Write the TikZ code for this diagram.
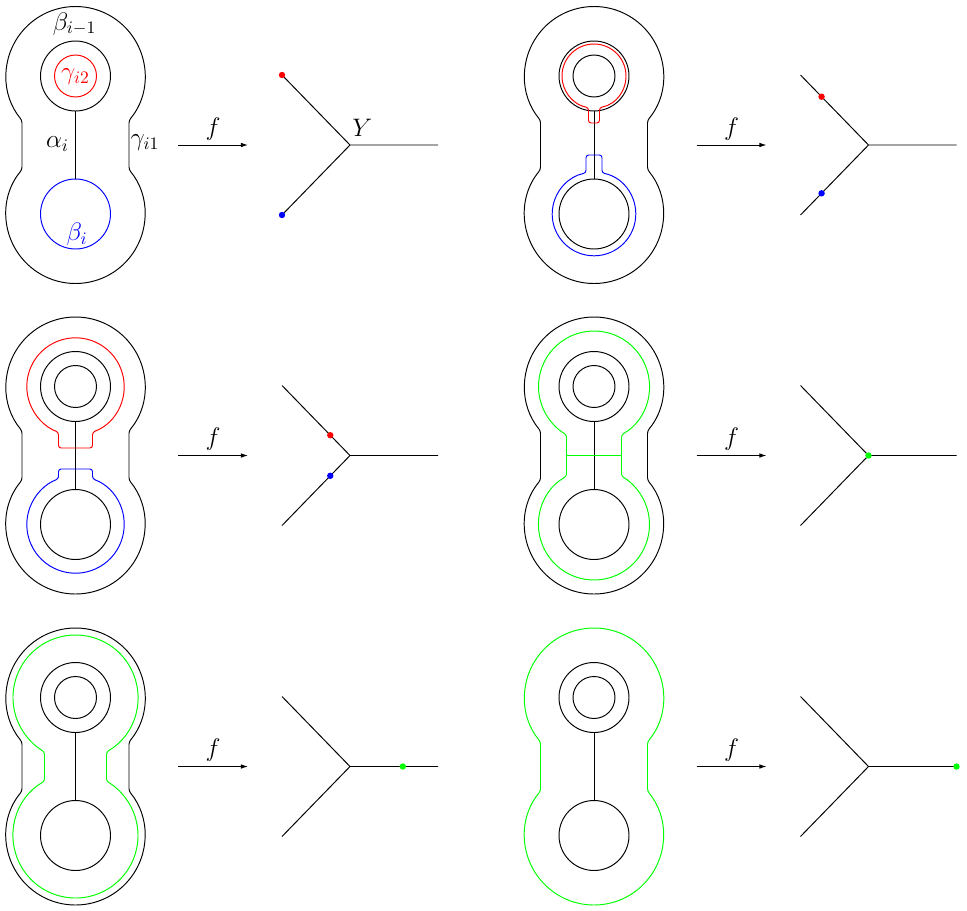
\documentclass[tikz,border=0pt]{standalone}
\usepackage{amsmath}
\usepackage{xcolor}
\usepackage{tikz}
\usetikzlibrary{arrows.meta,calc}
\definecolor{figline}{RGB}{0,0,0}
\definecolor{curvered}{RGB}{255,0,0}
\definecolor{curveblue}{RGB}{0,0,255}
\definecolor{curvegreen}{RGB}{0,255,0}
\tikzset{
  sc/.style  ={draw=figline, line width=0.55pt},
  cr/.style  ={draw=curvered, line width=0.55pt, rounded corners=1.5pt},
  cb/.style  ={draw=curveblue, line width=0.55pt, rounded corners=1.5pt},
  cg/.style  ={draw=curvegreen, line width=0.55pt, rounded corners=1.5pt},
  pk/.style  ={draw=figline, line width=0.55pt, rounded corners=1.5pt},
  lab/.style ={font=\fontsize{14.7}{17}\selectfont, inner sep=0pt},
  ptr/.style ={draw=figline, line width=0.55pt, -{Latex[length=4pt,width=2.6pt]}},
}
% outer boundary: two lobes joined by a neck
\newcommand{\peanut}[3]{%
  \pgfmathsetmacro{\lobeang}{acos(#3/#2)}
  \pgfmathsetmacro{\lobey}{69-#2*sin(\lobeang)}
  \draw[#1] (#3,\lobey) arc[start angle=-\lobeang, end angle=180+\lobeang, radius=#2]
    -- (-#3,-\lobey) arc[start angle=180-\lobeang, end angle=360+\lobeang, radius=#2] -- cycle;
}
% circle round the upper lobe with a tab pulled down
\newcommand{\tabloop}[5]{%
  \pgfmathsetmacro{\tabang}{acos(#4/#3)}
  \pgfmathsetmacro{\taby}{#2-#3*sin(\tabang)}
  \draw[#1] (#4,\taby) arc[start angle=-\tabang, end angle=180+\tabang, radius=#3]
    -- (-#4,#5) -- (#4,#5) -- cycle;
}
% map f onto the tripod Y
\newcommand{\ymap}{%
  \coordinate (fs) at (102.5,0);
  \coordinate (fe) at (172.5,0);
  \draw[ptr] (fs) -- node[lab,above=2.5pt] {$f$} (fe);
  \coordinate (yv) at (274.5,0);
  \coordinate (ya) at (206.5,70);
  \coordinate (yb) at (206.5,-70);
  \coordinate (yc) at (362.5,0);
  \draw[sc] (ya) -- (yv) -- (yb) (yv) -- (yc);
}
\newcommand{\handles}{%
  \draw[sc] (0,69) circle[radius=21];
  \draw[sc] (0,69) circle[radius=35];
  \draw[sc] (0,-69) circle[radius=35];
  \coordinate (ht) at (0,34);
  \coordinate (hb) at (0,-34);
  \draw[sc] (ht) -- (hb);
}

\begin{document}
\begin{tikzpicture}[x=0.02cm,y=0.02cm]
  \useasboundingbox (0,0) rectangle (967,-910);
  % row 1, left
  \begin{scope}[shift={(75.5,-145)}]
  \peanut{pk}{69.5}{53.5}
  \draw[sc] (0,69) circle[radius=35];
  \draw[cr] (0,69) circle[radius=21];
  \draw[cb] (0,-69) circle[radius=35];
  \coordinate (ht) at (0,34);
  \coordinate (hb) at (0,-34);
  \draw[sc] (ht) -- (hb);
  \node[lab] (bprev) at (-1,121) {$\beta_{i-1}$};
  \node[lab,text=curvered] (gtwo) at (0,68) {$\gamma_{i2}$};
  \node[lab] (alph) at (-18,1) {$\alpha_i$};
  \node[lab] (gone) at (69.5,2) {$\gamma_{i1}$};
  \node[lab,text=curveblue] (bcur) at (1.5,-89) {$\beta_i$};
  \ymap
  \node[lab,anchor=base west] (ylab) at ($(yv)+(2,9)$) {$Y$};
  \fill[curvered] (ya) circle[radius=3.2];
  \fill[curveblue] (yb) circle[radius=3.2];
  \end{scope}
  % row 1, right
  \begin{scope}[shift={(594,-145)}]
  \peanut{pk}{69.5}{53.5}
  \handles
  \tabloop{cr}{69}{32}{5.5}{22}
  \begin{scope}[yscale=-1]
  \tabloop{cb}{69}{41.8}{8}{10}
  \end{scope}
  \ymap
  \fill[curvered] ($(yv)!0.69!(ya)$) circle[radius=3.2];
  \fill[curveblue] ($(yv)!0.69!(yb)$) circle[radius=3.2];
  \end{scope}
  % row 2, left
  \begin{scope}[shift={(75.5,-455.5)}]
  \peanut{pk}{69.5}{53.5}
  \handles
  \tabloop{cr}{69}{48.7}{17}{7.5}
  \begin{scope}[yscale=-1]
  \tabloop{cb}{69}{48.7}{17}{13.5}
  \end{scope}
  \ymap
  \fill[curvered] ($(yv)!0.29!(ya)$) circle[radius=3.2];
  \fill[curveblue] ($(yv)!0.29!(yb)$) circle[radius=3.2];
  \end{scope}
  % row 2, right
  \begin{scope}[shift={(594,-455.5)}]
  \peanut{pk}{69.5}{53.5}
  \handles
  \peanut{cg}{55.5}{27.5}
  \coordinate (gl) at (-27.5,0);
  \coordinate (gr) at (27.5,0);
  \draw[cg] (gl) -- (gr);
  \ymap
  \fill[curvegreen] (yv) circle[radius=3.2];
  \end{scope}
  % row 3, left
  \begin{scope}[shift={(75.5,-766.5)}]
  \peanut{pk}{69.5}{53.5}
  \handles
  \peanut{cg}{62.5}{31}
  \ymap
  \fill[curvegreen] ($(yv)!0.6!(yc)$) circle[radius=3.2];
  \end{scope}
  % row 3, right
  \begin{scope}[shift={(594,-766.5)}]
  \handles
  \peanut{cg}{69.5}{53.5}
  \ymap
  \fill[curvegreen] (yc) circle[radius=3.2];
  \end{scope}
\end{tikzpicture}
\end{document}
